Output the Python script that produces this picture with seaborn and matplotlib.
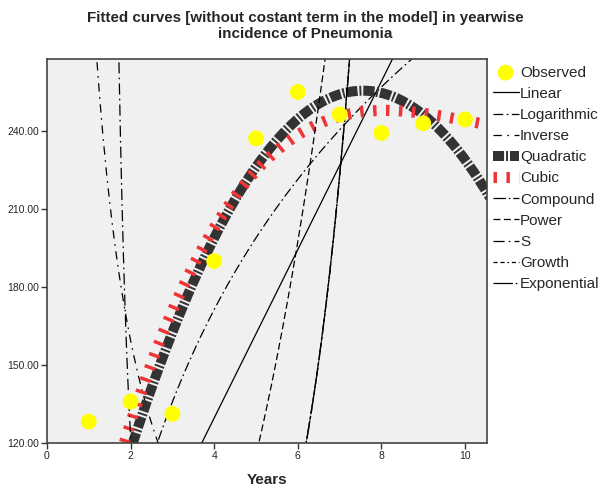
import numpy as np
import pandas as pd
import matplotlib
matplotlib.use("Agg")
import matplotlib.pyplot as plt
import seaborn as sns

# observed yearwise incidence
years = [1, 2, 3, 4, 5, 6, 7, 8, 9, 10]
incidence = [128.2, 135.9, 131.2, 190.0, 237.2, 255.1, 246.4, 239.3, 243.0, 244.5]

# model coefficients (no constant term), estimated from the drawn curves
b_linear = 32.4
b_log = 123.6
b_inverse = 319.0
quad_coef = [67.6, -4.47]
cubic_coef = [79.06, -8.18, 0.2715]
b_compound = 2.165
b_power = 2.95
b_s = 9.616
b_growth = 0.7722
b_expo = 0.7722

yticks = [120, 150, 180, 210, 240]
xticks = [0, 2, 4, 6, 8, 10]

sns.set_theme(style="white")
plt.rcParams['font.family'] = ['Liberation Sans', 'DejaVu Sans']
plt.rcParams['lines.scale_dashes'] = False

fig = plt.figure(figsize=(6.1, 4.91), dpi=100)
ax = fig.add_axes([0.077, 0.098, 0.721, 0.782])
ax.set_facecolor('#f0f0f0')

xs = np.linspace(0.05, 10.6, 600)
fits = {
    'Linear': b_linear * xs,
    'Logarithmic': b_log * np.log(xs),
    'Inverse': b_inverse / xs,
    'Quadratic': quad_coef[0] * xs + quad_coef[1] * xs**2,
    'Cubic': cubic_coef[0] * xs + cubic_coef[1] * xs**2 + cubic_coef[2] * xs**3,
    'Compound': b_compound ** xs,
    'Power': xs ** b_power,
    'S': np.exp(np.minimum(b_s / xs, 50)),
    'Growth': np.exp(b_growth * xs),
    'Exponential': np.exp(b_expo * xs),
}

styles = {
    'Linear': dict(color='black', lw=0.9, linestyle='-'),
    'Logarithmic': dict(color='black', lw=0.9, linestyle=(0, (7, 2.5, 1.2, 2.5))),
    'Inverse': dict(color='black', lw=0.9, linestyle=(0, (6, 4, 1.2, 4))),
    'Quadratic': dict(color='#333333', lw=7.2, linestyle=(0, (8, 1.4, 1.4, 1.4)),
                      dash_capstyle='butt'),
    'Cubic': dict(color='#ef3337', lw=8.0, linestyle=(0, (2.5, 6.8)),
                  dash_capstyle='butt'),
    'Compound': dict(color='black', lw=0.9, linestyle=(0, (9, 2, 1.2, 2))),
    'Power': dict(color='black', lw=0.9, linestyle=(0, (5, 2.5))),
    'S': dict(color='black', lw=0.9, linestyle=(0, (8, 3, 1.2, 3))),
    'Growth': dict(color='black', lw=0.9, linestyle=(0, (3, 2, 3, 2, 1.2, 2))),
    'Exponential': dict(color='black', lw=0.9, linestyle=(0, (14, 2, 1.2, 2))),
}

obs = pd.DataFrame({'Years': years, 'Incidence': incidence})
sns.scatterplot(data=obs, x='Years', y='Incidence', ax=ax, color='#ffff00',
                s=130, edgecolor='none', label='Observed', zorder=3)

for name, ys in fits.items():
    d = pd.DataFrame({'x': xs, 'y': ys})
    sns.lineplot(data=d, x='x', y='y', ax=ax, label=name, sort=False, **styles[name])

ax.set_xlim(0, 10.52)
ax.set_ylim(120, 267.8)
ax.set_xticks(xticks)
ax.set_yticks(yticks)
ax.set_yticklabels([f'{v:.2f}' for v in yticks])
ax.tick_params(axis='both', direction='out', length=4, width=1, color='#333333',
               labelsize=7.5, pad=1.5, bottom=True, left=True)
for sp in ax.spines.values():
    sp.set_color('#444444')
    sp.set_linewidth(1.2)

ax.set_xlabel('Years', fontsize=11, fontweight='bold', labelpad=9)
ax.set_ylabel('')
fig.text(0.5, 0.977, 'Fitted curves [without costant term in the model] in yearwise\nincidence of Pneumonia',
         ha='center', va='top', fontsize=10.9, fontweight='bold', linespacing=1.15)

leg = ax.legend(loc='upper left', bbox_to_anchor=(0.795, 0.882), bbox_transform=fig.transFigure,
                frameon=False, fontsize=11, handlelength=1.7, handletextpad=0.1,
                labelspacing=0.47, borderpad=0, markerscale=1.0)

fig.savefig('out.png', dpi=100)
